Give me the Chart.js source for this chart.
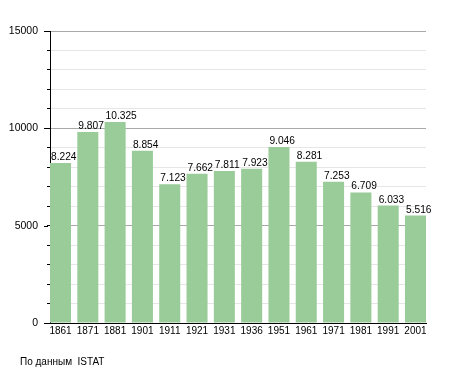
<!DOCTYPE html>
<html lang="ru">
<head>
    <meta charset="utf-8">
    <title>Население</title>
    <script src="https://cdn.jsdelivr.net/npm/chart.js"></script>
    <style>
        body { margin: 0; background: #fff; }
        .chart-container {
            width: 455px;
            height: 373px;
            position: relative;
        }
        .source {
            position: absolute;
            left: 20px;
            top: 356px;
            font: 10px "Liberation Sans", Arial, sans-serif;
            color: #000;
            white-space: pre;
        }
    </style>
</head>
<body>
    <div class="chart-container">
        <canvas id="myChart"></canvas>
        <div class="source">По данным  ISTAT</div>
    </div>

    <script>
        // census years and population
        const years = ["1861", "1871", "1881", "1901", "1911", "1921", "1931", "1936", "1951", "1961", "1971", "1981", "1991", "2001"];
        const population = [8224, 9807, 10325, 8854, 7123, 7662, 7811, 7923, 9046, 8281, 7253, 6709, 6033, 5516];
        const yMajorTicks = [0, 5000, 10000, 15000];

        const FONT = '"Liberation Sans", Arial, sans-serif';

        function formatNum(v) {
            return String(v).replace(/\B(?=(\d{3})+(?!\d))/g, ".");
        }

        // value labels above the bars, left aligned with the bar
        const barLabels = {
            id: "barLabels",
            afterDatasetsDraw(chart) {
                const ctx = chart.ctx;
                const meta = chart.getDatasetMeta(0);
                ctx.save();
                ctx.font = "10.2px " + FONT;
                ctx.fillStyle = "#000";
                ctx.textAlign = "left";
                ctx.textBaseline = "alphabetic";
                meta.data.forEach((bar, i) => {
                    ctx.fillText(formatNum(population[i]), bar.x - bar.width / 2 + 1, bar.y - 3);
                });
                ctx.restore();
            }
        };

        // longer tick marks for the labelled values
        const majorTicks = {
            id: "majorTicks",
            afterDraw(chart) {
                const ctx = chart.ctx;
                const y = chart.scales.y;
                const left = chart.chartArea.left;
                ctx.save();
                ctx.strokeStyle = "#000";
                ctx.lineWidth = 1;
                yMajorTicks.forEach(v => {
                    const py = Math.round(y.getPixelForValue(v)) + 0.5;
                    ctx.beginPath();
                    ctx.moveTo(left - 6, py);
                    ctx.lineTo(left - 2, py);
                    ctx.stroke();
                });
                ctx.restore();
            }
        };

        const ctx = document.getElementById("myChart").getContext("2d");
        new Chart(ctx, {
            type: "bar",
            data: {
                datasets: [{
                    data: population.map((v, i) => ({ x: i, y: v })),
                    backgroundColor: "#99cc99",
                    borderWidth: 0,
                    categoryPercentage: 1,
                    barPercentage: 0.77
                }]
            },
            options: {
                responsive: true,
                maintainAspectRatio: false,
                animation: false,
                layout: {
                    padding: { left: 0, right: 29, top: 31, bottom: 0 }
                },
                plugins: {
                    legend: { display: false },
                    tooltip: { enabled: false }
                },
                scales: {
                    x: {
                        type: "linear",
                        offset: false,
                        min: -0.385,
                        max: 13.385,
                        afterBuildTicks: scale => {
                            scale.ticks = years.map((y, i) => ({ value: i }));
                        },
                        afterFit: scale => { scale.height = 50; },
                        grid: { display: false, drawTicks: false, tickLength: 0 },
                        border: { display: true, color: "#000", width: 1 },
                        ticks: {
                            autoSkip: false,
                            maxRotation: 0,
                            padding: 2,
                            color: "#000",
                            font: { family: FONT, size: 10 },
                            callback: value => years[value]
                        }
                    },
                    y: {
                        min: 0,
                        max: 15000,
                        afterFit: scale => { scale.width = 50; },
                        grid: {
                            color: c => (c.tick && c.tick.value % 5000 === 0) ? "#a8a8a8" : "#e6e6e6",
                            tickColor: "#000",
                            tickLength: 3
                        },
                        border: { display: true, color: "#000", width: 1 },
                        ticks: {
                            stepSize: 1000,
                            autoSkip: false,
                            padding: 9,
                            color: "#000",
                            font: { family: FONT, size: 10.5 },
                            callback: v => (v % 5000 === 0 ? String(v) : "")
                        }
                    }
                }
            },
            plugins: [barLabels, majorTicks]
        });
    </script>
</body>
</html>
